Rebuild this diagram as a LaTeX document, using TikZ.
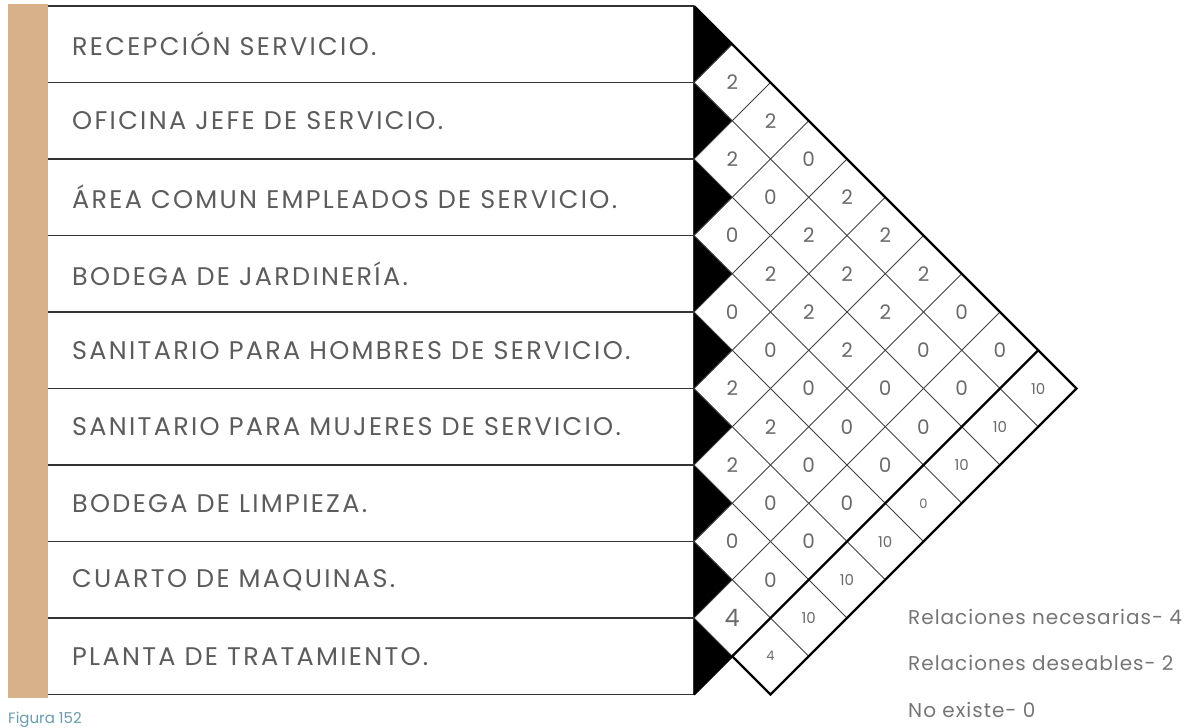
\documentclass[tikz,border=0pt]{standalone}
\usepackage{fontspec}
\setmainfont{Poppins}
\definecolor{barTan}{HTML}{D8B08A}
\definecolor{labelGray}{HTML}{5C5C5C}
\definecolor{numGray}{HTML}{6A6A6A}
\definecolor{figBlue}{HTML}{6A9BAE}

\begin{document}
\begin{tikzpicture}[
        x=1pt, y=-1pt,
        rowlabel/.style={anchor=west, inner sep=0pt, text=labelGray, font=\fontsize{25.5}{26}\selectfont\addfontfeature{LetterSpace=9}},
        cellnum/.style={inner sep=0pt, text=numGray, font=\fontsize{20}{20}\selectfont},
        bignum/.style={inner sep=0pt, text=numGray, font=\fontsize{24}{24}\selectfont},
        sumnum/.style={inner sep=0pt, text=numGray, font=\fontsize{15}{15}\selectfont},
        legend/.style={anchor=west, inner sep=0pt, text=labelGray!85, font=\fontsize{20}{20}\selectfont\addfontfeature{LetterSpace=5}},
        rowline/.style={draw=black!80, line width=1.8pt},
        gridline/.style={draw=black!75, line width=0.9pt},
        frameline/.style={draw=black, line width=2.3pt, line join=miter}
    ]
        \def\rh{76.5}
        \def\hh{38.25}
        \useasboundingbox (0,0) rectangle (1189,728);

        % 1. Barra lateral y tabla de locales
        \fill[barTan] (8,4) rectangle (48,698);
        \foreach \i in {0,...,9}
            \draw[rowline] (48,{6+\i*\rh}) -- (694,{6+\i*\rh});
        \draw[rowline] (694,6) -- (694,694.5);

        \foreach \lbl [count=\i] in {RECEPCIÓN SERVICIO., OFICINA JEFE DE SERVICIO.,
                ÁREA COMUN EMPLEADOS DE SERVICIO., BODEGA DE JARDINERÍA.,
                SANITARIO PARA HOMBRES DE SERVICIO., SANITARIO PARA MUJERES DE SERVICIO.,
                BODEGA DE LIMPIEZA., CUARTO DE MAQUINAS., PLANTA DE TRATAMIENTO.}
            \node[rowlabel] (room\i) at (72,{6+(\i-0.5)*\rh}) {\lbl};

        % 2. Triangulos negros del borde
        \foreach \i in {1,...,9}
            \fill (694,{6+(\i-1)*\rh}) -- (732.25,{6+(\i-0.5)*\rh}) -- (694,{6+\i*\rh}) -- cycle;

        % 3. Reticula de relaciones
        \foreach \i in {1,...,8} {
            \draw[gridline] (694,{6+\i*\rh}) -- ++({(10-\i)*\hh},{(10-\i)*\hh});
            \draw[gridline] (694,{6+\i*\rh}) -- ++({\i*\hh},{-\i*\hh});
        }

        \coordinate (mtop) at (694,6);
        \coordinate (mapex) at (1076.5,388.5);
        \coordinate (minner) at (1038.25,350.25);
        \coordinate (mbottom) at (694,694.5);
        \coordinate (sbottom) at (770.5,694.5);
        \coordinate (sleft) at (732.25,656.25);
        \draw[frameline] (mtop) -- (mapex) -- (sbottom) -- (sleft);
        \draw[frameline] (minner) -- (mbottom);

        % 4. Valores de la matriz
        \foreach \i/\j/\v in {1/2/2, 1/3/2, 1/4/0, 1/5/2, 1/6/2, 1/7/2, 1/8/0, 1/9/0,
                2/3/2, 2/4/0, 2/5/2, 2/6/2, 2/7/2, 2/8/0, 2/9/0,
                3/4/0, 3/5/2, 3/6/2, 3/7/2, 3/8/0, 3/9/0,
                4/5/0, 4/6/0, 4/7/0, 4/8/0, 4/9/0,
                5/6/2, 5/7/2, 5/8/0, 5/9/0,
                6/7/2, 6/8/0, 6/9/0,
                7/8/0, 7/9/0}
            \node[cellnum] (cell\i-\j) at ({694+(\j-\i)*\hh},{6+(\i+\j-1)*\hh}) {\v};
        \node[bignum] (cell8-9) at ({694+\hh},{6+16*\hh}) {4};

        % 5. Totales por local
        \foreach \i/\v in {1/10, 2/10, 3/10, 5/10, 6/10, 7/10}
            \node[sumnum] (total\i) at ({694+(10-\i)*\hh},{6+(\i+9)*\hh}) {\v};
        \node[sumnum, font=\fontsize{13}{13}\selectfont] (total4) at ({694+6*\hh},{6+13*\hh}) {0};
        \node[sumnum, font=\fontsize{13}{13}\selectfont] (total8) at ({694+2*\hh},{6+17*\hh}) {4};

        % 6. Leyenda
        \node[legend] (necesarias) at (908,617) {Relaciones necesarias- 4};
        \node[legend] (deseables) at (908,663) {Relaciones deseables- 2};
        \node[legend] (noexiste) at (908,710) {No existe- 0};

        \node[anchor=base west, inner sep=0pt, text=figBlue, font=\fontsize{15}{15}\selectfont] (figura) at (8,723.5) {Figura 152};

    \end{tikzpicture}
\end{document}
